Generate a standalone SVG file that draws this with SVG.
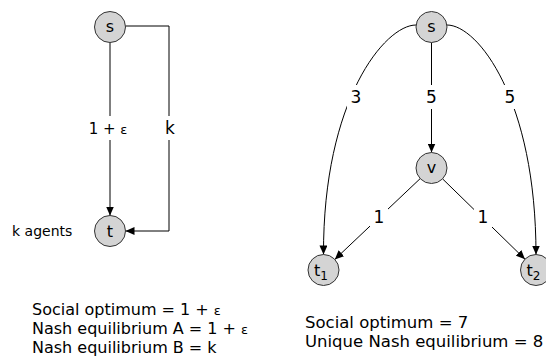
<svg xmlns="http://www.w3.org/2000/svg" width="546" height="362" viewBox="0 0 546 362">
<defs>
<marker id="arr" markerUnits="userSpaceOnUse" markerWidth="10" markerHeight="8" refX="9" refY="4" orient="auto">
<path d="M0,0 L9,4 L0,8 Z" fill="#000"/>
</marker>
<style>
text{font-family:"DejaVu Sans","Liberation Sans",sans-serif;fill:#000}
.node circle{fill:#d4d4d4;stroke:#333;stroke-width:1}
.nl{font-size:16px;text-anchor:middle}
.edge{fill:none;stroke:#000;stroke-width:1}
.lbl{font-size:17px;text-anchor:middle}
.bg{fill:#fff}
.cap{font-size:16px}
</style>
</defs>
<rect width="546" height="362" fill="#fff"/>

<g id="connectors">
<!-- left graph -->
<path class="edge" d="M110,42.5 L110,215.5" marker-end="url(#arr)"/>
<path class="edge" d="M125.5,26 L169,26 L169,231 L125.5,231" marker-end="url(#arr)"/>
<!-- right graph -->
<path class="edge" d="M416,25 C385,25 323,100 323.5,254.5" marker-end="url(#arr)"/>
<path class="edge" d="M447,25 C478,25 536,100 536,254.5" marker-end="url(#arr)"/>
<path class="edge" d="M431.5,42.5 L431.5,152.5" marker-end="url(#arr)"/>
<path class="edge" d="M420.2,178.6 L334.8,259.4" marker-end="url(#arr)"/>
<path class="edge" d="M442.6,178.9 L525,259.2" marker-end="url(#arr)"/>

<rect class="bg" x="89" y="116" width="40" height="24"/>
<text class="lbl" x="108" y="134" style="font-size:15px">1 + <tspan style="font-size:13px">ε</tspan></text>
<rect class="bg" x="162" y="116" width="15" height="24"/>
<text class="lbl" x="170" y="134">k</text>

<rect class="bg" x="347" y="85" width="18" height="24"/>
<text class="lbl" x="356" y="103">3</text>
<rect class="bg" x="423" y="85" width="18" height="24"/>
<text class="lbl" x="431.5" y="103">5</text>
<rect class="bg" x="501" y="85" width="18" height="24"/>
<text class="lbl" x="510" y="103">5</text>
<rect class="bg" x="370" y="205" width="18" height="24"/>
<text class="lbl" x="379" y="223">1</text>
<rect class="bg" x="474" y="205" width="18" height="24"/>
<text class="lbl" x="483" y="223">1</text>
</g>

<g id="node-s-left" class="node">
<circle cx="110" cy="27" r="15.5"/>
<text class="nl" x="110" y="32">s</text>
</g>
<g id="node-t-left" class="node">
<circle cx="110" cy="231" r="15.5"/>
<text class="nl" x="110" y="237">t</text>
</g>
<text x="12" y="236" style="font-size:14px">k agents</text>

<g id="node-s-right" class="node">
<circle cx="431.5" cy="27" r="15.5"/>
<text class="nl" x="431.5" y="32">s</text>
</g>
<g id="node-v" class="node">
<circle cx="431.5" cy="168" r="15.5"/>
<text class="nl" x="431.5" y="173">v</text>
</g>
<g id="node-t1" class="node">
<circle cx="323.5" cy="270" r="15.5"/>
<text class="nl" x="321" y="276">t<tspan dy="4" style="font-size:12px">1</tspan></text>
</g>
<g id="node-t2" class="node">
<circle cx="536" cy="270" r="15.5"/>
<text class="nl" x="533.5" y="276">t<tspan dy="4" style="font-size:12px">2</tspan></text>
</g>

<g id="captions">
<text class="cap" x="32" y="315">Social optimum = 1 + <tspan style="font-size:13px">ε</tspan></text>
<text class="cap" x="32" y="334">Nash equilibrium A = 1 + <tspan style="font-size:13px">ε</tspan></text>
<text class="cap" x="32" y="353">Nash equilibrium B = k</text>
<text class="cap" x="305" y="328" style="font-size:16.5px">Social optimum = 7</text>
<text class="cap" x="305" y="347" style="font-size:16.5px">Unique Nash equilibrium = 8</text>
</g>
</svg>
